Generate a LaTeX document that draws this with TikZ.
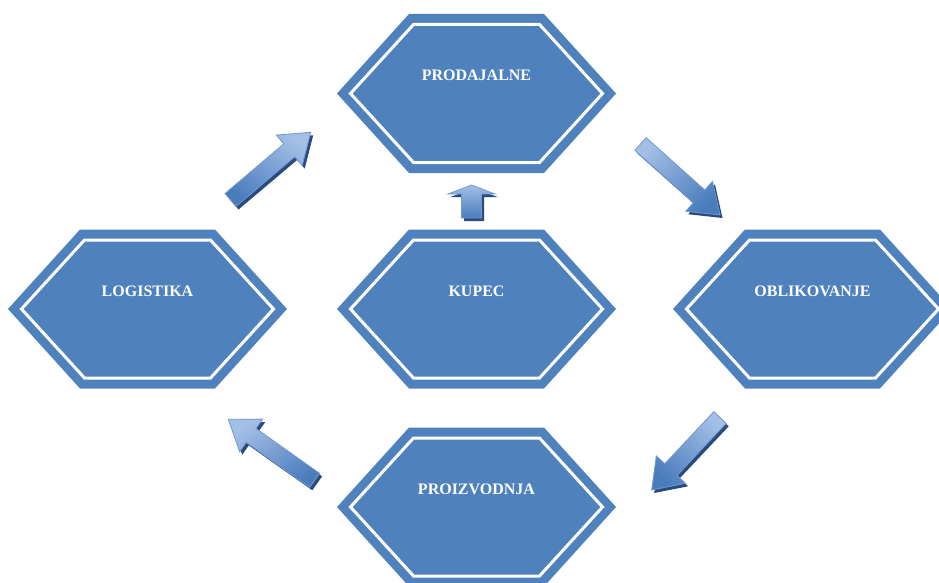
\documentclass[tikz,border=0pt]{standalone}
\usepackage{fontspec}
\setmainfont{Liberation Serif}
\usetikzlibrary{calc}
\definecolor{hexblue}{HTML}{4F81BD}
\definecolor{arrlight}{HTML}{A3BFE6}
\definecolor{arrmid}{HTML}{4A7CBC}
\definecolor{arredge}{HTML}{6E9AD2}
\definecolor{arrshadow}{HTML}{2A4A7B}
\tikzset{
  hexnode/.style={minimum width=279pt, minimum height=158pt, inner sep=0pt},
  hexlabel/.style={text=white, font=\bfseries\fontsize{16}{16}\selectfont, inner sep=0pt, text height=10.6pt, text depth=0pt},
  hexouter/.style={fill=hexblue},
  hexinner/.style={fill=hexblue, draw=white, line width=3pt, line join=miter},
  arrbody/.style={top color=arrlight, bottom color=arrmid, draw=arredge, line width=0.8pt, line join=miter},
  arrshade/.style={fill=arrshadow},
}
\newcommand\hexdraw[1]{%
  \begin{scope}[shift={(#1.center)}]
    \fill[hexouter] (-139.5,0) -- (-67.5,-79.5) -- (67.5,-79.5) -- (139.5,0) -- (67.5,79.5) -- (-67.5,79.5) -- cycle;
    \filldraw[hexinner] (-126,0) -- (-63,-69) -- (63,-69) -- (126,0) -- (63,69) -- (-63,69) -- cycle;
  \end{scope}}
% #1 tail, #2 tip, #3 half shaft width, #4 half head width, #5 head length
\newcommand\arrowpath[5]{%
  ($(#1)!#3!90:(#2)$) -- ($($(#2)!#5!(#1)$)!#3!90:(#2)$) -- ($($(#2)!#5!(#1)$)!#4!90:(#2)$) -- (#2)
  -- ($($(#2)!#5!(#1)$)!#4!-90:(#2)$) -- ($($(#2)!#5!(#1)$)!#3!-90:(#2)$) -- ($(#1)!#3!-90:(#2)$) -- cycle}
% #6 shading angle
\newcommand\blockarrow[6]{%
  \coordinate (#1sh) at ($(#1)+(2.5,3)$);
  \coordinate (#2sh) at ($(#2)+(2.5,3)$);
  \fill[arrshade] \arrowpath{#1sh}{#2sh}{#3}{#4}{#5};
  \shade[arrbody, shading angle=#6] \arrowpath{#1}{#2}{#3}{#4}{#5};}
\begin{document}
\begin{tikzpicture}[x=1pt, y=-1pt]
  \useasboundingbox (0,0) rectangle (939,583);
  % hexagons
  \node[hexnode] (prod) at (476.5,93.5) {};
  \node[hexnode] (logi) at (147.5,309) {};
  \node[hexnode] (kup)  at (476.5,309) {};
  \node[hexnode] (obl)  at (812.5,309) {};
  \node[hexnode] (proi) at (476.5,507) {};
  \hexdraw{prod}
  \hexdraw{logi}
  \hexdraw{kup}
  \hexdraw{obl}
  \hexdraw{proi}
  \node[hexlabel] (prodT) at ([yshift=18pt]prod.center) {PRODAJALNE};
  \node[hexlabel] (logiT) at ([yshift=18pt]logi.center) {LOGISTIKA};
  \node[hexlabel] (kupT)  at ([yshift=18pt]kup.center)  {KUPEC};
  \node[hexlabel] (oblT)  at ([yshift=18pt]obl.center)  {OBLIKOVANJE};
  \node[hexlabel] (proiT) at ([yshift=18pt]proi.center) {PROIZVODNJA};
  % arrows
  \coordinate (a1s) at (230.5,200);  \coordinate (a1e) at (310.7,132.3);
  \coordinate (a2s) at (640.5,144);  \coordinate (a2e) at (720,215);
  \coordinate (a3s) at (720,417.5);  \coordinate (a3e) at (651.7,490);
  \coordinate (a4s) at (314.7,480.3); \coordinate (a4e) at (228.3,419.3);
  \coordinate (a5s) at (471.5,218);  \coordinate (a5e) at (471.5,185);
  \blockarrow{a1s}{a1e}{8.5pt}{20pt}{28pt}{-40}
  \blockarrow{a2s}{a2e}{8.5pt}{20pt}{28pt}{42}
  \blockarrow{a3s}{a3e}{8.5pt}{20pt}{28pt}{-47}
  \blockarrow{a4s}{a4e}{8.5pt}{20pt}{28pt}{35}
  \blockarrow{a5s}{a5e}{10pt}{23.5pt}{9pt}{0}
\end{tikzpicture}
\end{document}
